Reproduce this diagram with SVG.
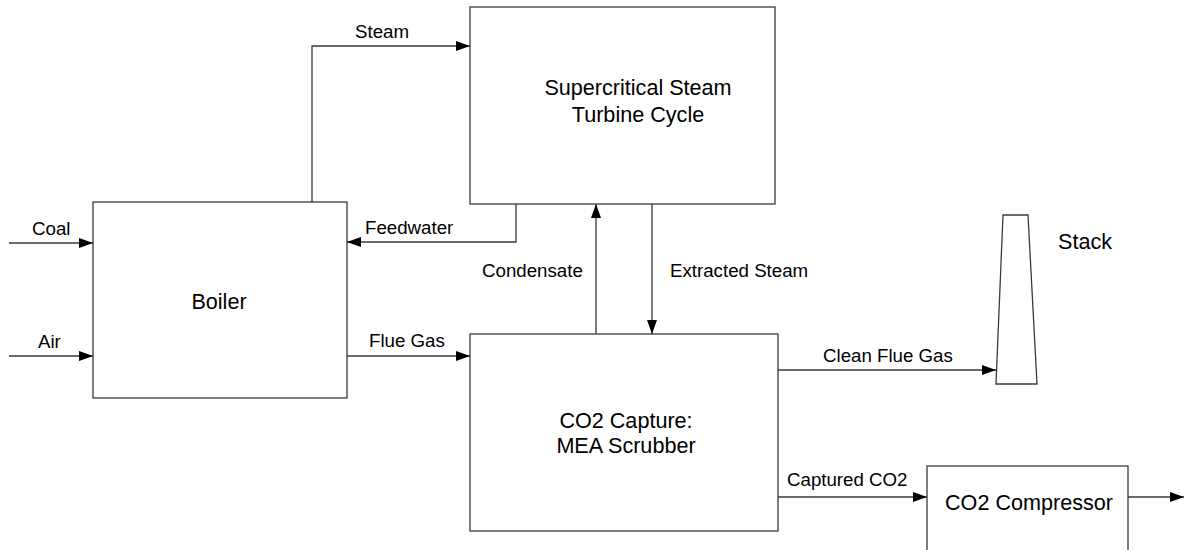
<svg xmlns="http://www.w3.org/2000/svg" width="1191" height="550" viewBox="0 0 1191 550">
<style>
.box{fill:#fff;stroke:#3a3a3a;stroke-width:1.3}
.ln{fill:none;stroke:#3a3a3a;stroke-width:1.3}
.lbl{font-family:"Liberation Sans",Arial,sans-serif;font-size:18.7px;fill:#000}
.nt{font-family:"Liberation Sans",Arial,sans-serif;font-size:21.6px;fill:#000;text-anchor:middle}
</style>
<defs>
<marker id="ah" markerUnits="userSpaceOnUse" markerWidth="15" markerHeight="11" refX="14" refY="5" orient="auto">
<path d="M0,0 L14,5 L0,10 Z" fill="#000"/>
</marker>
</defs>
<rect width="1191" height="550" fill="#fff"/>
<g id="connectors">
<path class="ln" d="M9,243 H93" marker-end="url(#ah)"/>
<path class="ln" d="M9,356 H93" marker-end="url(#ah)"/>
<path class="ln" d="M312,202 V46 H470" marker-end="url(#ah)"/>
<path class="ln" d="M516,204 V242 H347" marker-end="url(#ah)"/>
<path class="ln" d="M347,356 H470" marker-end="url(#ah)"/>
<path class="ln" d="M596,334 V204" marker-end="url(#ah)"/>
<path class="ln" d="M652,204 V334" marker-end="url(#ah)"/>
<path class="ln" d="M778,370 H996" marker-end="url(#ah)"/>
<path class="ln" d="M778,497 H927" marker-end="url(#ah)"/>
<path class="ln" d="M1128,497 H1184" marker-end="url(#ah)"/>
<text class="lbl" x="32" y="235">Coal</text>
<text class="lbl" x="38" y="348">Air</text>
<text class="lbl" x="355" y="38">Steam</text>
<text class="lbl" x="365" y="234">Feedwater</text>
<text class="lbl" x="369" y="347">Flue Gas</text>
<text class="lbl" x="482" y="277">Condensate</text>
<text class="lbl" x="670" y="277">Extracted Steam</text>
<text class="lbl" x="823" y="362">Clean Flue Gas</text>
<text class="lbl" x="787" y="486">Captured CO2</text>
</g>
<g id="boiler">
<rect class="box" x="93" y="202" width="254" height="196"/>
<text class="nt" x="219" y="309">Boiler</text>
</g>
<g id="turbine">
<rect class="box" x="470" y="7" width="305" height="197"/>
<text class="nt" x="638" y="95">Supercritical Steam</text>
<text class="nt" x="638" y="122">Turbine Cycle</text>
</g>
<g id="scrubber">
<rect class="box" x="470" y="334" width="308" height="197"/>
<text class="nt" x="626" y="428">CO2 Capture:</text>
<text class="nt" x="626" y="453">MEA Scrubber</text>
</g>
<g id="stack">
<path class="box" d="M1003,215 H1028 L1037,384 H996 Z"/>
<text class="nt" x="1085" y="249">Stack</text>
</g>
<g id="compressor">
<rect class="box" x="927" y="466" width="201" height="100"/>
<text class="nt" x="1029" y="510">CO2 Compressor</text>
</g>
</svg>
